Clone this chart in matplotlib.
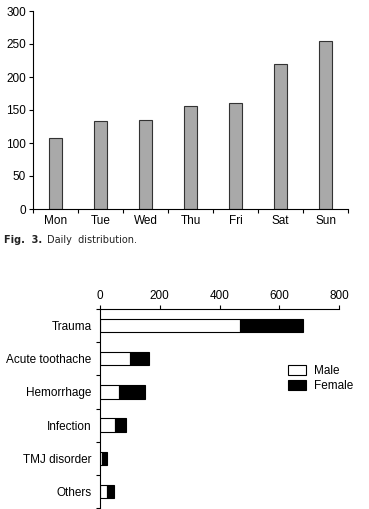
import matplotlib.pyplot as plt
import numpy as np

plt.rcParams['font.family'] = ['Liberation Sans', 'DejaVu Sans']

# 요일별 분포
days = ['Mon', 'Tue', 'Wed', 'Thu', 'Fri', 'Sat', 'Sun']
day_counts = [108, 133, 135, 156, 160, 220, 254]

# 원인별 성별 분포
causes = ['Trauma', 'Acute toothache', 'Hemorrhage', 'Infection', 'TMJ disorder', 'Others']
male = [470, 100, 65, 50, 8, 25]
female = [210, 65, 85, 38, 17, 22]

W, H = 369, 509
fig = plt.figure(figsize=(W / 100, H / 100), dpi=100)

def px_axes(left, top, right, bottom):
    return fig.add_axes([left / W, 1 - bottom / H, (right - left) / W, (bottom - top) / H])

fs = 8.5

# 위쪽 그래프: 요일별 막대
ax1 = px_axes(33, 11, 348, 209)
x = np.arange(len(days))
ax1.bar(x, day_counts, width=0.3, color='#a9a9a9', edgecolor='#333333', linewidth=0.8)
ax1.set_xlim(-0.5, len(days) - 0.5)
ax1.set_ylim(0, 300)
ax1.set_yticks(range(0, 301, 50))
ax1.set_xticks(np.arange(-0.5, len(days), 1.0))
ax1.set_xticklabels([])
ax1.set_xticks(x, minor=True)
ax1.set_xticklabels(days, minor=True)
ax1.tick_params(axis='x', which='minor', length=0, labelsize=fs, pad=4)
ax1.tick_params(axis='x', which='major', length=3, width=0.8, direction='out')
ax1.tick_params(axis='y', labelsize=fs, length=3, width=0.8, pad=2)
for s in ['top', 'right']:
    ax1.spines[s].set_visible(False)
for s in ['left', 'bottom']:
    ax1.spines[s].set_linewidth(0.8)

# 캡션
fig.text(4 / W, 1 - 240 / H, 'Fig.  3.', fontsize=7, fontweight='bold',
         va='center', ha='left', color='#222222', family='DejaVu Sans')
fig.text(47 / W, 1 - 240 / H, 'Daily  distribution.', fontsize=7,
         va='center', ha='left', color='#222222', family='DejaVu Sans')

# 아래쪽 그래프: 원인별 누적 막대
ax2 = px_axes(100, 309, 339, 508)
y = np.arange(len(causes))
ax2.barh(y, male, height=0.4, color='white', edgecolor='black', linewidth=0.8, label='Male')
ax2.barh(y, female, left=male, height=0.4, color='black', edgecolor='black', linewidth=0.8,
         label='Female')
ax2.set_xlim(0, 800)
ax2.set_ylim(len(causes) - 0.5, -0.5)
ax2.xaxis.tick_top()
ax2.set_xticks(range(0, 801, 200))
ax2.tick_params(axis='x', labelsize=fs, length=3, width=0.8, pad=2)
ax2.set_yticks(np.arange(-0.5, len(causes), 1.0))
ax2.set_yticklabels([])
ax2.set_yticks(y, minor=True)
ax2.set_yticklabels(causes, minor=True)
ax2.tick_params(axis='y', which='minor', length=0, labelsize=fs, pad=6)
ax2.tick_params(axis='y', which='major', length=3, width=0.8)
for s in ['bottom', 'right']:
    ax2.spines[s].set_visible(False)
for s in ['left', 'top']:
    ax2.spines[s].set_linewidth(0.8)

ax2.legend(loc='upper left', bbox_to_anchor=(0.765, 0.74), frameon=False, fontsize=fs,
           handlelength=1.6, handleheight=0.9, handletextpad=0.6, labelspacing=0.25,
           borderaxespad=0)

fig.savefig('out.png', dpi=100)
